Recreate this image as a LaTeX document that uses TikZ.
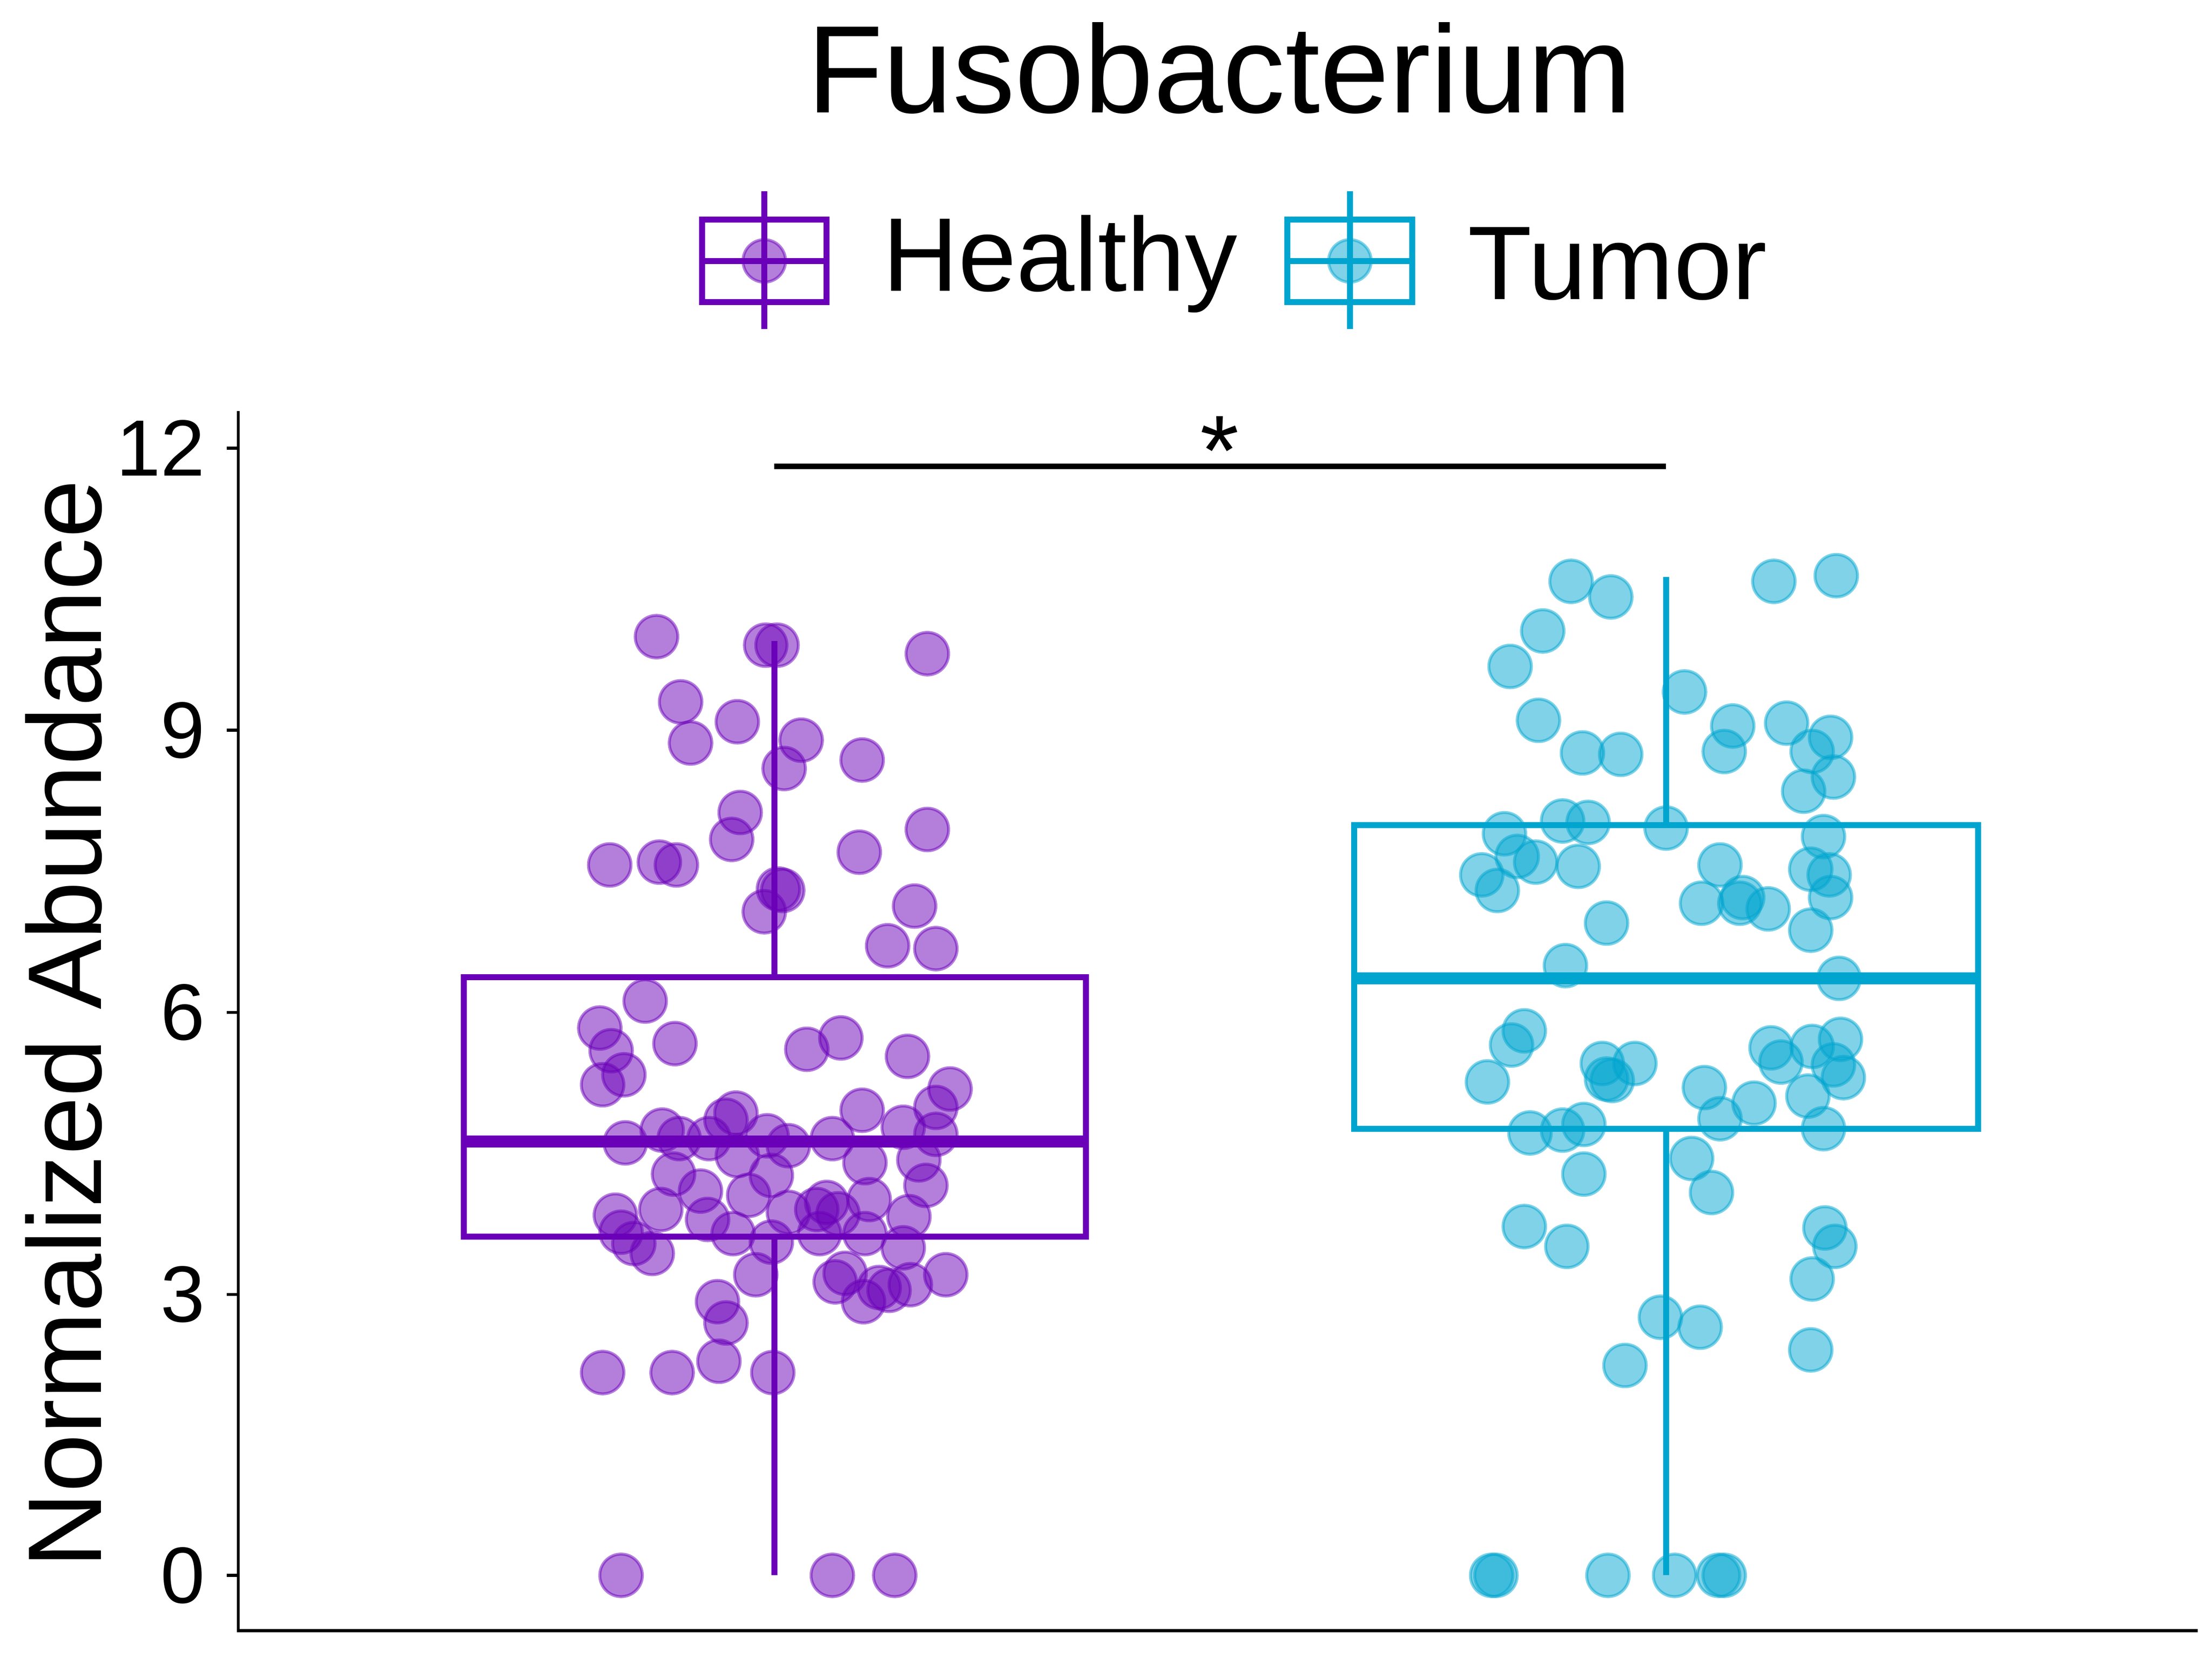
\documentclass[tikz,border=0pt]{standalone}
\usepackage{fontspec}
\setmainfont{Liberation Sans}
\definecolor{healthy}{RGB}{106,0,184}
\definecolor{tumor}{RGB}{0,165,207}
\tikzset{
  boxline/.style={line width=1.2pt},
  medline/.style={line width=2.4pt},
  dot/.style={fill=#1, fill opacity=0.5, draw=#1, draw opacity=0.5, line width=0.6pt},
  tick/.style={font=\fontsize{16}{16}\selectfont, anchor=east}
}
\begin{document}
\begin{tikzpicture}[x=0.01cm, y=-0.01cm]
    \useasboundingbox (0,0) rectangle (1560,1170);

    % title and legend
    \node (title) at (860,48) {\fontsize{25}{25}\selectfont Fusobacterium};
    \draw[healthy, boxline] (495,155) rectangle (583,213);
    \draw[healthy, boxline] (539,135) -- (539,232) (495,184) -- (583,184);
    \fill[dot=healthy] (539,184) circle (15);
    \node[anchor=west] (lh) at (610,186) {\fontsize{21}{21}\selectfont Healthy};
    \draw[tumor, boxline] (908,155) rectangle (996,213);
    \draw[tumor, boxline] (952,135) -- (952,232) (908,184) -- (996,184);
    \fill[dot=tumor] (952,184) circle (15);
    \node[anchor=west] (lt) at (1023,186) {\fontsize{21}{21}\selectfont Tumor};

    % axes
    \draw[line width=0.6pt] (168,290) -- (168,1150) -- (1550,1150);
    \foreach \v/\yy in {0/1111,3/913,6/714,9/515,12/316}{
        \draw[line width=0.6pt] (160,\yy) -- (168,\yy);
        \node[tick] at (157,\yy) {\v};
    }
    \node[rotate=90] (ylab) at (45,722) {\fontsize{21}{21}\selectfont Normalized Abundance};

    % healthy box
    \draw[healthy, boxline] (546,1111) -- (546,872) (546,689) -- (546,452);
    \draw[healthy, boxline] (327,689) rectangle (766,872);
    \draw[healthy, medline] (327,805) -- (766,805);
    \foreach \px/\py in {463/449,540/455,548/455,654/461,480/495,520/509,487/524,565/522,553/542,608/536,522/573,516/592,654/585,430/610,465/608,477/610,606/601,549/627,552/628,539/643,645/639,626/667,660/669,455/706,423/725,431/741,476/736,593/732,569/740,640/745,440/758,425/765,670/768,660/781,608/783,519/785,512/790,467/797,441/806,479/803,500/803,541/801,556/808,587/803,520/815,637/795,660/800,610/820,475/828,544/829,648/818,494/840,528/843,653/836,613/846,466/853,434/857,499/860,583/848,556/855,576/853,591/856,641/858,517/870,438/869,447/877,460/884,544/876,578/870,610/870,637/880,533/899,589/904,596/898,620/908,642/906,667/899,609/918,627/910,506/918,512/933,507/960,425/968,474/968,545/968,438/1111,587/1111,631/1111}
        \fill[dot=healthy] (\px,\py) circle (15);

    % tumor box
    \draw[tumor, boxline] (1175,1111) -- (1175,796) (1175,582) -- (1175,407);
    \draw[tumor, boxline] (955,582) rectangle (1395,796);
    \draw[tumor, medline] (955,690) -- (1395,690);
    \foreach \px/\py in {1108/410,1136/421,1251/410,1295/406,1088/445,1065/470,1188/488,1085/508,1116/531,1143/532,1222/512,1260/510,1291/520,1278/530,1216/530,1293/548,1272/558,1061/588,1102/579,1120/580,1175/584,1286/590,1070/604,1083/608,1113/611,1213/610,1045/617,1056/628,1277/613,1290/617,1200/637,1229/633,1227/637,1247/641,1291/633,1133/651,1277/656,1104/681,1297/690,1075/727,1066/737,1249/739,1278/738,1298/733,1153/750,1130/750,1133/761,1137/762,1256/749,1293/751,1049/763,1300/760,1202/767,1275/773,1237/778,1213/789,1117/793,1079/799,1102/797,1286/796,1117/828,1193/817,1207/841,1075/865,1105/879,1287/866,1294/879,1278/902,1171/929,1199/936,1146/963,1277/952,1052/1111,1055/1111,1134/1111,1181/1111,1212/1111,1216/1111}
        \fill[dot=tumor] (\px,\py) circle (15);

    % significance
    \coordinate (s1) at (546,329);
    \coordinate (s2) at (1175,329);
    \draw[line width=1.1pt] (s1) -- (s2);
    \node (star) at (860,318) {\fontsize{20}{20}\selectfont *};
\end{tikzpicture}
\end{document}
